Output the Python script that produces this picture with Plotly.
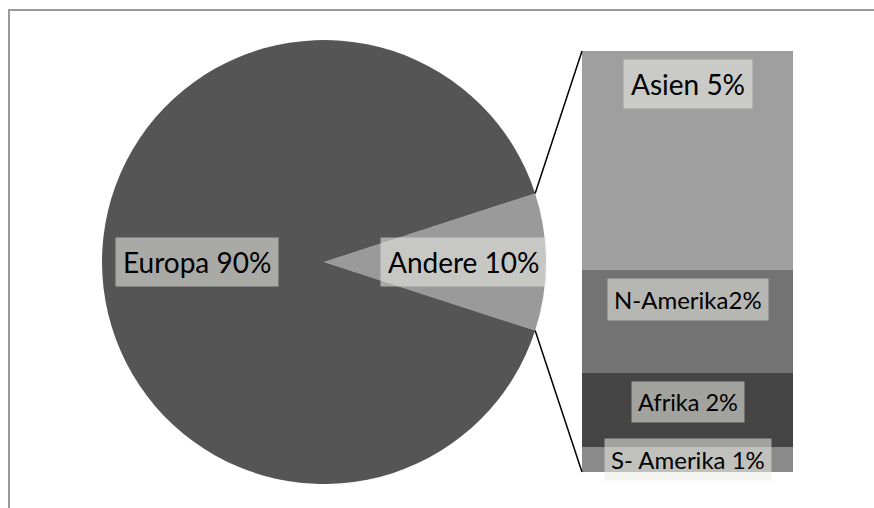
import math
import plotly.graph_objects as go

# ---------------- data ----------------
pie_labels = ["Andere", "Europa"]
pie_values = [10, 90]
pie_texts = ["Andere 10%", "Europa 90%"]
pie_colors = ["#9a9a9a", "#555555"]

bar_labels = ["S- Amerika", "Afrika", "N-Amerika", "Asien"]   # bottom -> top
bar_values = [0.59, 1.76, 2.45, 5.2]
bar_texts = ["S- Amerika 1%", "Afrika 2%", "N-Amerika2%", "Asien 5%"]
bar_colors = ["#8a8a8a", "#454545", "#737373", "#9f9f9f"]
bar_fontsizes = [24, 23.5, 24, 28]

# ---------------- geometry (pixels of 874x508 page) ----------------
W, H = 874, 508
FONT = "Lato"
LABEL_BG = "rgba(236,235,228,0.56)"

pie_dom_x = [102 / W, 546 / W]
pie_dom_y = [1 - 484 / H, 1 - 40 / H]
bar_dom_x = [582 / W, 793 / W]
bar_dom_y = [1 - 472 / H, 1 - 51 / H]

other_frac = pie_values[0] / sum(pie_values)
rotation = 90 - 360 * other_frac / 2

fig = go.Figure()
fig.add_trace(go.Pie(
    labels=pie_labels, values=pie_values, sort=False, direction="clockwise",
    rotation=rotation, marker=dict(colors=pie_colors, line=dict(width=0)),
    textinfo="none", hoverinfo="none", showlegend=False,
    domain=dict(x=pie_dom_x, y=pie_dom_y),
))

total = sum(bar_values)
for lab, v, c in zip(bar_labels, bar_values, bar_colors):
    fig.add_trace(go.Bar(
        x=["Andere"], y=[v], name=lab, marker=dict(color=c, line=dict(width=0)),
        width=1, showlegend=False, hoverinfo="none",
    ))

# pie geometry in pixels
cx_px = (pie_dom_x[0] + pie_dom_x[1]) / 2 * W
cy_px = (1 - (pie_dom_y[0] + pie_dom_y[1]) / 2) * H
r_px = min((pie_dom_x[1] - pie_dom_x[0]) * W, (pie_dom_y[1] - pie_dom_y[0]) * H) / 2

def px2paper(x, y):
    return x / W, 1 - y / H

annotations = []
# pie labels
start = 90 - rotation  # math angle of first slice start (deg, ccw from +x)
acc = 0.0
label_k = [0.63, 0.57]
for val, txt, k in zip(pie_values, pie_texts, label_k):
    frac = val / sum(pie_values)
    mid = start - 360 * (acc + frac / 2)
    acc += frac
    lx = cx_px + k * r_px * math.cos(math.radians(mid))
    ly = cy_px - k * r_px * math.sin(math.radians(mid))
    px, py = px2paper(lx, ly)
    annotations.append(dict(
        x=px, y=py, xref="paper", yref="paper", text=txt, showarrow=False,
        font=dict(family=FONT, size=28, color="#000000"),
        bgcolor=LABEL_BG, borderpad=7, xanchor="center", yanchor="middle",
    ))

# bar labels
cum = 0.0
for i, (v, txt, fs) in enumerate(zip(bar_values, bar_texts, bar_fontsizes)):
    top = cum + v
    if i == 0:
        annotations.append(dict(
            x=0, y=cum + v / 2, xref="x", yref="y", text=txt, showarrow=False,
            font=dict(family=FONT, size=fs, color="#000000"),
            bgcolor=LABEL_BG, borderpad=6, xanchor="center", yanchor="middle",
        ))
    else:
        annotations.append(dict(
            x=0, y=top, xref="x", yref="y", text=txt, showarrow=False,
            font=dict(family=FONT, size=fs, color="#000000"),
            bgcolor=LABEL_BG, borderpad=6 if fs < 26 else 7,
            xanchor="center", yanchor="top", yshift=-8,
        ))
    cum = top

# connector lines from pie slice edges to bar corners
half = math.radians(360 * other_frac / 2)
ux = cx_px + r_px * math.cos(half)
uy = cy_px - r_px * math.sin(half)
lyy = cy_px + r_px * math.sin(half)
shapes = [
    dict(type="line", xref="paper", yref="paper",
         x0=ux / W, y0=1 - uy / H, x1=bar_dom_x[0], y1=bar_dom_y[1],
         line=dict(color="#000000", width=1.5)),
    dict(type="line", xref="paper", yref="paper",
         x0=ux / W, y0=1 - lyy / H, x1=bar_dom_x[0], y1=bar_dom_y[0],
         line=dict(color="#000000", width=1.5)),
    # chart frame
    dict(type="rect", xref="paper", yref="paper",
         x0=9 / W, y0=-0.1, x1=1.1, y1=1 - 10 / H,
         line=dict(color="#9a9a9a", width=2), fillcolor="rgba(0,0,0,0)"),
]

fig.update_layout(
    width=W, height=H, margin=dict(l=0, r=0, t=0, b=0),
    paper_bgcolor="#ffffff", plot_bgcolor="rgba(0,0,0,0)",
    barmode="stack", bargap=0,
    xaxis=dict(domain=bar_dom_x, range=[-0.5, 0.5], visible=False, fixedrange=True),
    yaxis=dict(domain=bar_dom_y, range=[0, total], visible=False, fixedrange=True),
    annotations=annotations, shapes=shapes,
)

fig.write_html("out.html")
